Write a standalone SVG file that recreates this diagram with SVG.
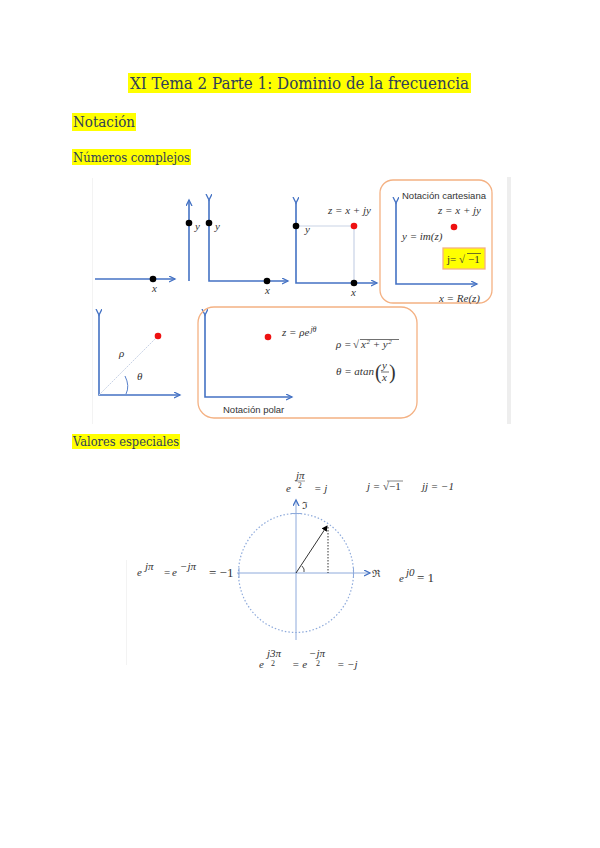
<svg xmlns="http://www.w3.org/2000/svg" width="600" height="848" viewBox="0 0 600 848">
<style>
.hl{fill:#ffff00}
.hd{font-family:"DejaVu Serif","Liberation Serif",serif;fill:#2f4058}
.ax{stroke:#4472c4;stroke-width:1.6;fill:none}
.m{font-family:"Liberation Serif",serif;font-style:italic;fill:#333;font-size:11px}
.mn{font-family:"Liberation Serif",serif;fill:#333}
.lb{font-family:"Liberation Sans","DejaVu Sans",sans-serif;fill:#333;font-size:9.5px}
.dk{fill:#000}
.rd{fill:#ee1111}
.ob{fill:none;stroke:#f4b183;stroke-width:1.3}
.cx{stroke:#8eaadb;stroke-width:1;fill:none}
</style>
<defs>
<marker id="ar" markerWidth="8" markerHeight="8" refX="6" refY="3" orient="auto" markerUnits="userSpaceOnUse">
<path d="M0,0 L6,3 L0,6" fill="none" stroke="#4472c4" stroke-width="1.3"/>
</marker>
<marker id="ab" markerWidth="8" markerHeight="8" refX="5" refY="3" orient="auto" markerUnits="userSpaceOnUse">
<path d="M0,0 L6,3 L0,6 Z" fill="#000"/>
</marker>
</defs>
<rect width="600" height="848" fill="#fff"/>

<g id="headings">
<rect class="hl" x="128" y="73" width="343" height="20"/>
<text class="hd" x="299.5" y="88.5" font-size="16.5" text-anchor="middle" textLength="339" lengthAdjust="spacingAndGlyphs">XI Tema 2 Parte 1: Dominio de la frecuencia</text>
<rect class="hl" x="72" y="113" width="64" height="18"/>
<text class="hd" x="73" y="127" font-size="15" textLength="62" lengthAdjust="spacingAndGlyphs">Notación</text>
<rect class="hl" x="72" y="149" width="119" height="16"/>
<text class="hd" x="73" y="162" font-size="13.5" textLength="117" lengthAdjust="spacingAndGlyphs">Números complejos</text>
<rect class="hl" x="72" y="434" width="108" height="15"/>
<text class="hd" x="73" y="445.5" font-size="13.5" textLength="106" lengthAdjust="spacingAndGlyphs">Valores especiales</text>
</g>

<g id="frame1">
<rect x="507" y="177" width="4" height="247" fill="#eeeeee"/>
<rect x="92" y="178" width="1" height="246" fill="#f3f3f3"/>
</g>

<g id="connectors">
<line class="ax" x1="95" y1="279" x2="175" y2="279" marker-end="url(#ar)"/>
<line class="ax" x1="189" y1="281" x2="189" y2="200" marker-end="url(#ar)"/>
<polyline class="ax" points="209,200 209,281 288,281" marker-start="url(#ar)" marker-end="url(#ar)"/>
<polyline class="ax" points="296,203 296,283 377,283" marker-start="url(#ar)" marker-end="url(#ar)"/>
<polyline points="296,226 354,226 354,283" fill="none" stroke="#c9d3e6" stroke-width="1.2"/>
<polyline class="ax" points="396,203 396,284 477,284" marker-start="url(#ar)" marker-end="url(#ar)"/>
<polyline class="ax" points="99,315 99,395 180,395" marker-start="url(#ar)" marker-end="url(#ar)"/>
<line x1="99" y1="395" x2="158" y2="336" stroke="#c9d3e6" stroke-width="1" stroke-dasharray="2,1"/>
<path d="M125,376 Q130,386 126,394" fill="none" stroke="#4472c4" stroke-width="0.9"/>
<polyline class="ax" points="205,315 205,397 292,397" marker-start="url(#ar)" marker-end="url(#ar)"/>
</g>

<g id="panel1">
<circle class="dk" cx="153" cy="279" r="3.3"/>
<text class="m" x="152" y="292">x</text>
</g>
<g id="panel2">
<circle class="dk" cx="189" cy="223" r="3.3"/>
<text class="m" x="195" y="230">y</text>
</g>
<g id="panel3">
<circle class="dk" cx="209" cy="223" r="3.3"/>
<text class="m" x="215" y="230">y</text>
<circle class="dk" cx="267" cy="281" r="3.3"/>
<text class="m" x="265" y="294">x</text>
</g>
<g id="panel4">
<circle class="dk" cx="296" cy="226" r="3.3"/>
<circle class="rd" cx="354" cy="226" r="3.3"/>
<circle class="dk" cx="354" cy="283" r="3.3"/>
<text class="m" x="328" y="214" font-size="10">z = x + jy</text>
<text class="m" x="305" y="233">y</text>
<text class="m" x="351" y="296">x</text>
</g>

<g id="cartesiana">
<rect class="ob" x="380" y="180" width="112" height="123" rx="13"/>
<text class="lb" x="402" y="199">Notación cartesiana</text>
<text class="m" x="481" y="214" text-anchor="end">z = x + jy</text>
<circle class="rd" cx="454" cy="227" r="3.3"/>
<text class="m" x="402" y="240">y = im(z)</text>
<rect x="443" y="248" width="42" height="21" fill="#ffff00" stroke="#f4b183" stroke-width="1.3"/>
<text class="mn" x="447" y="263" font-size="11">j= √</text>
<text class="mn" x="468" y="263" font-size="11">−1</text>
<line x1="467" y1="253.5" x2="481" y2="253.5" stroke="#333" stroke-width="0.7"/>
<text class="m" x="480" y="302" text-anchor="end">x = Re(z)</text>
</g>

<g id="polar1">
<circle class="rd" cx="158" cy="336" r="3.3"/>
<text class="m" x="119" y="357">ρ</text>
<text class="m" x="137" y="380">θ</text>
</g>

<g id="polar">
<rect class="ob" x="198" y="307" width="219" height="111" rx="16"/>
<circle class="rd" cx="268" cy="337" r="3.3"/>
<text class="m" x="282" y="336">z = ρe<tspan font-size="8" dy="-4" dx="1">jθ</tspan></text>
<text class="m" x="336" y="348">ρ = </text>
<text class="mn" x="353" y="348" font-size="11">√</text>
<line x1="360" y1="339.5" x2="399" y2="339.5" stroke="#333" stroke-width="0.7"/>
<text class="m" x="361" y="348">x<tspan font-size="7" dy="-4" dx="0.5">2</tspan><tspan dy="4"> + y</tspan><tspan font-size="7" dy="-4" dx="0.5">2</tspan></text>
<text class="m" x="336" y="375">θ = atan</text>
<text class="mn" x="375" y="379" font-size="20">(</text>
<text class="m" x="382" y="369" font-size="10">y</text>
<line x1="381" y1="372" x2="389" y2="372" stroke="#333" stroke-width="0.7"/>
<text class="m" x="382" y="381" font-size="10">x</text>
<text class="mn" x="389" y="379" font-size="20">)</text>
<text class="lb" x="223" y="413">Notación polar</text>
</g>

<g id="circulo">
<rect x="126" y="560" width="1" height="105" fill="#f3f3f3"/>
<ellipse cx="296" cy="573" rx="57.5" ry="59.5" fill="none" stroke="#8eaadb" stroke-width="1.2" stroke-dasharray="1.5,2"/>
<line class="cx" x1="296" y1="640" x2="296" y2="500" marker-end="url(#ar)"/>
<line class="cx" x1="237" y1="573" x2="370" y2="573" marker-end="url(#ar)"/>
<line x1="239" y1="568" x2="239" y2="578" stroke="#8eaadb" stroke-width="1"/>
<line x1="353.5" y1="568" x2="353.5" y2="578" stroke="#8eaadb" stroke-width="1"/>
<line x1="291" y1="513.5" x2="301" y2="513.5" stroke="#8eaadb" stroke-width="1"/>
<line x1="296" y1="573" x2="327" y2="526" stroke="#000" stroke-width="0.8" marker-end="url(#ab)"/>
<line x1="328" y1="527" x2="328" y2="573" stroke="#000" stroke-width="0.8" stroke-dasharray="1.5,1.5"/>
<path d="M302,566 Q305,569 304,572" fill="none" stroke="#000" stroke-width="0.7"/>
<text class="mn" x="302" y="509" font-size="10">ℑ</text>
<text class="mn" x="372" y="577" font-size="10">ℜ</text>
</g>

<g id="valores">
<text class="m" x="286" y="492" font-size="11">e</text>
<text class="m" x="296" y="479" font-size="7.5">jπ</text>
<line x1="295" y1="481" x2="305" y2="481" stroke="#333" stroke-width="0.5"/>
<text class="mn" x="298" y="488" font-size="7.5">2</text>
<text class="m" x="314" y="492" font-size="11">= j</text>
<text class="m" x="367" y="490" font-size="10">j = √<tspan font-style="normal">−1</tspan></text>
<line x1="387" y1="481" x2="403" y2="481" stroke="#333" stroke-width="0.6"/>
<text class="m" x="422" y="490" font-size="10">jj = −1</text>

<text class="m" x="137" y="576" font-size="11">e</text>
<text class="m" x="145" y="570" font-size="8">jπ</text>
<text class="mn" x="164" y="576" font-size="11">=</text>
<text class="m" x="172" y="576" font-size="11">e</text>
<text class="m" x="180" y="570" font-size="8">−jπ</text>
<text class="mn" x="209" y="577" font-size="13">= −1</text>
<text class="m" x="399" y="582" font-size="11">e</text>
<text class="m" x="406" y="576" font-size="8">j0</text>
<text class="mn" x="417" y="582" font-size="13">= 1</text>

<text class="m" x="259" y="668" font-size="11">e</text>
<text class="m" x="267" y="657" font-size="8">j3π</text>
<text class="mn" x="271" y="666" font-size="8">2</text>
<text class="m" x="292" y="668" font-size="11">= e</text>
<text class="m" x="309" y="657" font-size="8">−jπ</text>
<text class="mn" x="316" y="666" font-size="8">2</text>
<text class="m" x="337" y="668" font-size="11">= −j</text>
</g>
</svg>
